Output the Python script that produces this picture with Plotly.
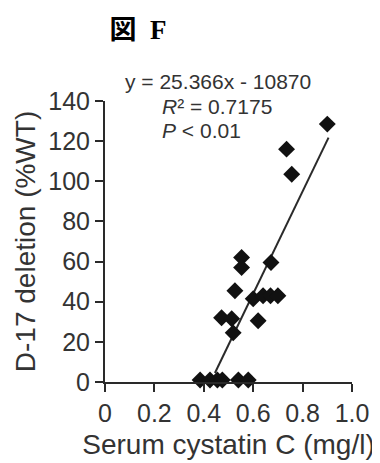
import plotly.graph_objects as go

# Data
cystatin_c = [0.385, 0.425, 0.455, 0.475, 0.54, 0.58,
              0.472, 0.513, 0.519, 0.62,
              0.526, 0.60, 0.64, 0.67, 0.70,
              0.553, 0.553, 0.672,
              0.735, 0.756, 0.90]
d17_deletion = [1, 1, 1, 1, 1, 1,
                32, 31.5, 24.5, 30.5,
                45.5, 41.5, 43, 43, 43,
                62, 57, 59.5,
                116, 103.5, 128.5]

fit_slope = 255.0
fit_intercept = -109.0
fit_x = [0.445, 0.905]
fit_y = [fit_slope * v + fit_intercept for v in fit_x]

x_ticks = [0, 0.2, 0.4, 0.6, 0.8, 1.0]
x_ticktext = ["0", "0.2", "0.4", "0.6", "0.8", "1.0"]
y_ticks = [0, 20, 40, 60, 80, 100, 120, 140]

FONT = "Liberation Sans, Arial, sans-serif"
TXT = "#333333"

fig = go.Figure()
fig.add_trace(go.Scatter(x=fit_x, y=fit_y, mode="lines",
                         line=dict(color="#2a2a2a", width=2),
                         showlegend=False, cliponaxis=False))
fig.add_trace(go.Scatter(x=cystatin_c, y=d17_deletion, mode="markers",
                         marker=dict(symbol="diamond", size=13, color="#111111",
                                     line=dict(width=0)),
                         showlegend=False, cliponaxis=False))

# page body has an 8px default margin, so the figure is offset by 8px
fig.update_layout(
    width=372, height=455, autosize=False,
    margin=dict(l=97, r=28, t=93, b=81, autoexpand=False),
    plot_bgcolor="white", paper_bgcolor="white",
    title=dict(text="<b>図  F</b>", x=130/372, y=1-22/455,
               xanchor="center", yanchor="middle",
               font=dict(family="Liberation Serif, Noto Sans CJK JP, serif",
                         size=27, color="#000000")),
    xaxis=dict(range=[0, 1.0], tickvals=x_ticks, ticktext=x_ticktext,
               showline=True, linecolor="#2a2a2a", linewidth=2,
               ticks="outside", ticklen=8, tickwidth=2, tickcolor="#2a2a2a",
               showgrid=False, zeroline=False, automargin=False,
               tickfont=dict(family=FONT, size=25, color=TXT),
               title=dict(text="Serum cystatin C (mg/l)", standoff=8,
                          font=dict(family=FONT, size=28, color=TXT))),
    yaxis=dict(range=[0, 140], tickvals=y_ticks,
               showline=True, linecolor="#2a2a2a", linewidth=2,
               ticks="outside", ticklen=8, tickwidth=2, tickcolor="#2a2a2a",
               showgrid=False, zeroline=False, automargin=False,
               tickfont=dict(family=FONT, size=25, color=TXT),
               title=dict(text="D-17 deletion (%WT)", standoff=4,
                          font=dict(family=FONT, size=28, color=TXT))),
    annotations=[
        dict(text="y = 25.366x - 10870", xref="paper", yref="paper",
             x=0.073, y=1.069, xanchor="left", yanchor="middle", showarrow=False,
             font=dict(family=FONT, size=21, color=TXT)),
        dict(text="<i>R</i>² = 0.7175", xref="paper", yref="paper",
             x=0.223, y=0.980, xanchor="left", yanchor="middle", showarrow=False,
             font=dict(family=FONT, size=21, color=TXT)),
        dict(text="<i>P</i> < 0.01", xref="paper", yref="paper",
             x=0.223, y=0.894, xanchor="left", yanchor="middle", showarrow=False,
             font=dict(family=FONT, size=21, color=TXT)),
    ],
)

fig.write_html("out.html")
